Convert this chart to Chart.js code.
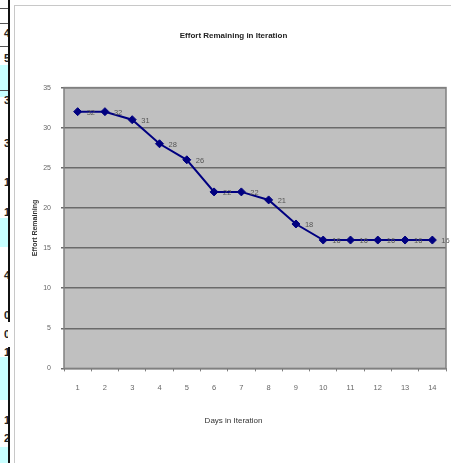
<!DOCTYPE html>
<html>
<head>
<meta charset="utf-8">
<script src="https://cdn.jsdelivr.net/npm/chart.js@4"></script>
<style>
  html, body { margin: 0; padding: 0; background: #fff; }
  body { width: 451px; height: 463px; position: relative; overflow: hidden; font-family: "Liberation Sans", Arial, sans-serif; }
  #chart { position: absolute; left: 0; top: 0; }
  .frame { position: absolute; left: 14px; top: 5px; width: 437px; height: 458px; border-left: 1px solid #c8c8c8; border-top: 1px solid #c8c8c8; box-sizing: border-box; }
  .strip { position: absolute; left: 0; top: 0; width: 8px; height: 463px; overflow: hidden; }
  .cyan { position: absolute; left: 0; width: 8px; background: #c8ffff; }
  .cell { position: absolute; right: -2px; font: bold 11px "Liberation Sans", Arial, sans-serif; color: #222; line-height: 12px; }
  .vline { position: absolute; left: 8px; width: 2px; background: #111; }
  .hline { position: absolute; left: 0; width: 8px; height: 1px; background: #555; }
</style>
</head>
<body>
<div class="strip" id="strip"></div>
<div class="vline" style="top:0;height:322px"></div>
<div class="vline" style="top:347px;height:116px"></div>
<div class="frame"></div>
<canvas id="chart" width="451" height="463"></canvas>
<script>
// values
const days = ['1', '2', '3', '4', '5', '6', '7', '8', '9', '10', '11', '12', '13', '14'];
const effortLeft = [32, 32, 31, 28, 26, 22, 22, 21, 18, 16, 16, 16, 16, 16];
const yTicks = { min: 0, max: 35, step: 5 };

// spreadsheet scraps peeking in on the left
const sheetDigits = [['4', 33], ['5', 58], ['3', 100], ['3', 143], ['1', 182], ['1', 212], ['4', 275], ['0', 315], ['0', 334], ['1', 352], ['1', 420], ['2', 438]];
const cyanBands = [[65, 32], [218, 29], [357, 43], [447, 16]];

const strip = document.getElementById('strip');
for (const [top, h] of cyanBands) {
  const c = document.createElement('div');
  c.classList.add('cyan');
  c.style.top = top + 'px';
  c.style.height = h + 'px';
  strip.appendChild(c);
}
for (const y of [8, 23, 46, 90]) {
  const l = document.createElement('div');
  l.classList.add('hline');
  l.style.top = y + 'px';
  strip.appendChild(l);
}
for (const [txt, y] of sheetDigits) {
  const d = document.createElement('div');
  d.classList.add('cell');
  d.style.top = (y - 6) + 'px';
  d.innerText = txt;
  strip.appendChild(d);
}

// little numbers next to each point
const pointLabels = {
  id: 'pointLabels',
  afterDatasetsDraw(chart) {
    const ctx = chart.ctx;
    const meta = chart.getDatasetMeta(0);
    ctx.save();
    ctx.font = '7.5px "Liberation Sans", Arial, sans-serif';
    ctx.fillStyle = '#555';
    ctx.textAlign = 'left';
    ctx.textBaseline = 'middle';
    meta.data.forEach((pt, i) => {
      ctx.fillText(String(effortLeft[i]), pt.x + 9, pt.y + 1);
    });
    ctx.restore();
  }
};

// grey plot area with darker border
const plotBg = {
  id: 'plotBg',
  beforeDraw(chart) {
    const { ctx, chartArea: a } = chart;
    ctx.save();
    ctx.fillStyle = '#c0c0c0';
    ctx.fillRect(a.left, a.top, a.right - a.left, a.bottom - a.top);
    ctx.restore();
  },
  afterDraw(chart) {
    const { ctx, chartArea: a } = chart;
    ctx.save();
    ctx.strokeStyle = '#808080';
    ctx.lineWidth = 1.5;
    ctx.strokeRect(a.left, a.top, a.right - a.left, a.bottom - a.top);
    ctx.restore();
  }
};

const chart = new Chart(document.getElementById('chart'), {
  type: 'line',
  data: {
    labels: days,
    datasets: [{
      data: effortLeft,
      borderColor: '#000080',
      borderWidth: 2,
      backgroundColor: '#000080',
      pointStyle: 'rectRot',
      pointRadius: 4,
      pointBorderWidth: 1,
      tension: 0
    }]
  },
  options: {
    responsive: false,
    animation: false,
    layout: { padding: { left: 20, right: 4, top: 0, bottom: 0 } },
    plugins: {
      legend: { display: false },
      tooltip: { enabled: false },
      title: {
        display: true,
        text: 'Effort Remaining in Iteration',
        color: '#222',
        font: { family: '"Liberation Sans", Arial, sans-serif', size: 8, weight: 'bold' },
        padding: { top: 31, bottom: 47 }
      },
      subtitle: {
        display: true,
        position: 'bottom',
        text: 'Days in Iteration',
        color: '#333',
        font: { family: '"Liberation Sans", Arial, sans-serif', size: 8 },
        padding: { top: 8, bottom: 37 }
      }
    },
    scales: {
      x: {
        offset: true,
        grid: { offset: true, drawOnChartArea: false, drawTicks: true, tickLength: 3, color: '#808080' },
        border: { display: false },
        ticks: { color: '#666', padding: 12, maxRotation: 0, font: { family: '"Liberation Sans", Arial, sans-serif', size: 7.5 } },
        afterFit(scale) { scale.height = 40; }
      },
      y: {
        min: yTicks.min,
        max: yTicks.max,
        grid: { color: '#6a6a6a', lineWidth: 1.5, drawTicks: true, tickLength: 3 },
        border: { display: false },
        ticks: { stepSize: yTicks.step, color: '#666', padding: 10, font: { family: '"Liberation Sans", Arial, sans-serif', size: 7 } },
        title: {
          display: true,
          text: 'Effort Remaining',
          color: '#333',
          font: { family: '"Liberation Sans", Arial, sans-serif', size: 7, weight: 'bold' },
          padding: { top: 11, bottom: 0 }
        },
        afterFit(scale) { scale.width = 44; }
      }
    }
  },
  plugins: [plotBg, pointLabels]
});
</script>
</body>
</html>
